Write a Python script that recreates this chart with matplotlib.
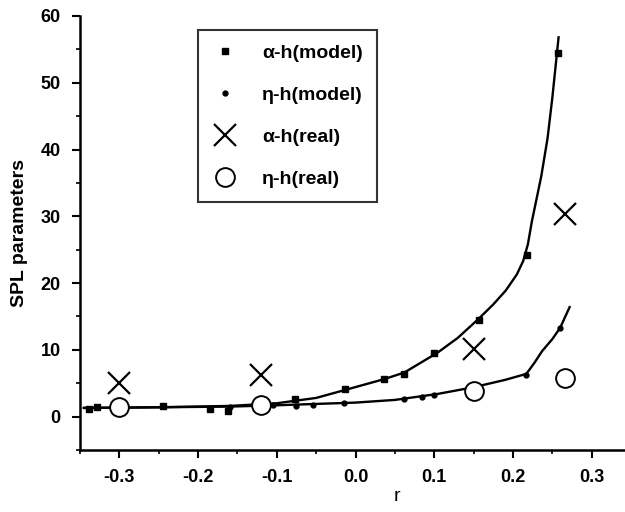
import matplotlib.pyplot as plt
from matplotlib.ticker import MultipleLocator

plt.rcParams['font.family'] = ['Liberation Sans', 'DejaVu Sans']

# model points (markers)
r_alpha_model = [-0.338, -0.329, -0.245, -0.185, -0.162, -0.077, -0.013, 0.036, 0.062, 0.100, 0.157, 0.218, 0.257]
alpha_model = [1.2, 1.5, 1.6, 1.2, 0.8, 2.6, 4.2, 5.6, 6.4, 9.5, 14.5, 24.2, 54.5]
r_eta_model = [-0.338, -0.245, -0.160, -0.105, -0.075, -0.054, -0.014, 0.061, 0.085, 0.100, 0.217, 0.260]
eta_model = [1.2, 1.6, 1.5, 1.7, 1.6, 1.8, 2.0, 2.7, 2.9, 3.2, 6.2, 13.3]

# fitted curves
r_alpha_curve = [-0.345, -0.25, -0.16, -0.10, -0.05, -0.013, 0.036, 0.062, 0.1045, 0.13, 0.156,
                 0.175, 0.191, 0.205, 0.213, 0.219, 0.224, 0.236, 0.244, 0.25, 0.258]
alpha_curve = [1.3, 1.4, 1.6, 2.0, 2.8, 4.0, 5.6, 6.6, 9.6, 11.8, 14.6,
               16.8, 18.9, 21.3, 23.3, 25.8, 29.2, 36.0, 41.7, 47.7, 56.8]
r_eta_curve = [-0.345, -0.25, -0.16, -0.10, -0.05, 0.0, 0.05, 0.1045, 0.15, 0.19, 0.217,
               0.227, 0.237, 0.25, 0.26, 0.272]
eta_curve = [1.3, 1.4, 1.5, 1.7, 1.9, 2.1, 2.5, 3.4, 4.4, 5.5, 6.4,
             8.0, 9.8, 11.6, 13.3, 16.4]

# measured points
r_real = [-0.30, -0.12, 0.15, 0.266]
alpha_real = [5.0, 6.2, 10.2, 30.3]
eta_real = [1.5, 1.8, 3.8, 5.8]

fig = plt.figure(figsize=(6.25, 5.12), dpi=100)
ax = fig.add_axes([80 / 625, 62 / 512, 551 / 625, 434 / 512])

ax.plot(r_alpha_curve, alpha_curve, color='black', lw=1.7)
ax.plot(r_eta_curve, eta_curve, color='black', lw=1.7)
ax.plot(r_alpha_model, alpha_model, 's', color='black', ms=4.5, label='α-h(model)')
ax.plot(r_eta_model, eta_model, 'o', color='black', ms=3.5, label='η-h(model)')
ax.plot(r_real, alpha_real, 'x', color='black', ms=15.5, mew=1.6, label='α-h(real)')
ax.plot(r_real, eta_real, 'o', mfc='white', mec='black', ms=13.5, mew=1.4, label='η-h(real)')

ax.set_xlim(-0.35, 0.35)
ax.set_ylim(-5, 60)
ax.xaxis.set_minor_locator(MultipleLocator(0.05))
ax.yaxis.set_major_locator(MultipleLocator(10))
ax.yaxis.set_minor_locator(MultipleLocator(5))
ax.set_xticks([-0.3, -0.2, -0.1, 0.0, 0.1, 0.2, 0.3])
ax.set_xticklabels(['-0.3', '-0.2', '-0.1', '0.0', '0.1', '0.2', '0.3'])
ax.tick_params(which='major', direction='out', length=6, width=1.5, labelsize=13, pad=8)
ax.tick_params(which='minor', direction='out', length=3, width=1.2)
for lab in ax.get_xticklabels() + ax.get_yticklabels():
    lab.set_fontweight('bold')

ax.spines['top'].set_visible(False)
ax.spines['right'].set_visible(False)
ax.spines['left'].set_linewidth(1.8)
ax.spines['bottom'].set_linewidth(1.8)

ax.set_xlabel('r', fontsize=14)
ax.xaxis.set_label_coords(0.575, -0.088)
ax.set_ylabel('SPL parameters', fontsize=14, fontweight='bold')
ax.yaxis.set_label_coords(-0.094, 0.5)

leg = ax.legend(loc='upper left', bbox_to_anchor=(0.214, 0.968), borderaxespad=0,
                frameon=True, fancybox=False, edgecolor='black',
                prop={'weight': 'bold', 'size': 14},
                handlelength=1.28, handletextpad=1.27, labelspacing=1.25,
                borderpad=0.75, numpoints=1)
leg.get_frame().set_linewidth(1.5)

fig.savefig('out.png', dpi=100)
